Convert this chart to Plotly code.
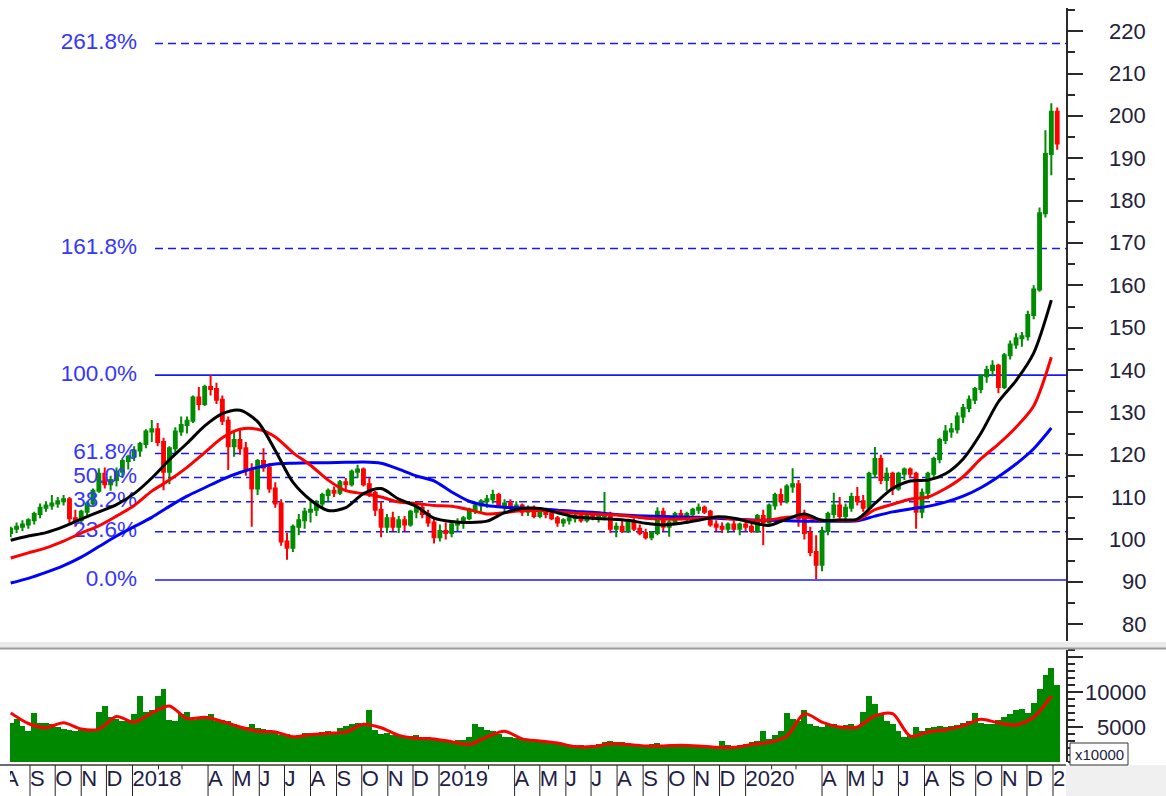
import pandas as pd
import plotly.graph_objects as go

W, H = 1166, 796
FONT = "Liberation Sans, Arial, sans-serif"

# ---------------- data (weekly bars) ----------------
first_week = "2017-08-09"          # Wednesday of first weekly bar
open_ = [101.5, 102.5, 103, 103.5, 104.5, 106, 107.5, 108, 108.5, 109,
         109.5, 105, 104.5, 106.5, 108.5, 111.5, 115.5, 113, 114, 116,
         118.5, 119.5, 121, 122.5, 125.5, 126, 123, 116, 121.5, 125.5,
         127, 128, 133.5, 132, 136, 135.5, 133, 128, 122, 123.5,
         121.5, 116.5, 112, 118.5, 117, 112, 108.5, 99.5, 98, 103,
         104.5, 106.5, 107, 108.5, 110.5, 111.5, 111, 113.5, 113, 116,
         116.5, 113, 111, 107, 103, 105, 103, 104.5, 103.5, 106.5,
         107.5, 106, 104, 100.5, 102, 101.5, 103.5, 104, 105, 107,
         108, 109, 109.5, 110.5, 108, 108.5, 107.5, 108, 106.5, 107.5,
         105.5, 107, 106, 105, 104, 104.5, 105, 105.5, 104.5, 105.5,
         105, 105.5, 106, 102.5, 103, 102, 104, 102.5, 101.5, 100.5,
         101.5, 106.5, 103, 104, 106, 105, 106, 107, 107.5, 106.5,
         103.5, 103, 102.5, 103.5, 102.5, 103.5, 103, 102, 105.5, 104,
         108, 110.5, 109, 112.5, 113, 105, 101.5, 97, 94, 102,
         106, 108, 105.5, 107.5, 110, 109, 107.5, 115.5, 119, 114,
         115.5, 112, 115.5, 116.5, 115.5, 106.5, 111, 115.5, 119, 123.5,
         125.5, 126, 129, 131, 133, 135.5, 138.5, 140, 141, 136,
         143.5, 146, 147.5, 148, 153, 159, 177, 191, 201]
high = [103, 104, 104.5, 105, 106.5, 108.5, 109, 110.5, 110, 110.5,
        110, 107, 107, 109, 112, 116.8, 117, 115, 117, 119,
        120, 122, 123, 126, 128.2, 127.5, 124, 122, 126.5, 129,
        129, 134, 136, 136.5, 138.8, 137, 134, 129, 125.5, 126,
        123, 118, 119, 121.5, 118, 113.5, 109.5, 101.5, 103.5, 106,
        107.5, 109, 109.3, 111, 112, 112.5, 114, 114.5, 116.5, 117.6,
        117, 114.5, 111.5, 109, 106, 106.5, 105.5, 105.5, 107, 108.5,
        108.5, 107, 105, 103.5, 104, 104, 105, 105.5, 107.5, 108.5,
        109.5, 110.5, 111.7, 111, 109.5, 109.5, 109, 108.5, 108, 108,
        107.5, 107.5, 107, 105.5, 105, 105.5, 106, 106, 106, 106.5,
        106, 111.2, 106.5, 104, 104.5, 104.5, 105, 103.5, 102.5, 102,
        107.6, 107.5, 104.5, 106.5, 107, 106.5, 107.5, 108.5, 108, 107,
        104.5, 104, 104, 104.5, 104, 104.5, 104, 106, 107, 108.5,
        111, 112, 113, 116.8, 114, 107, 103, 101, 103, 106.5,
        111, 110, 108.5, 111, 112.4, 110.5, 116, 121.8, 120, 117,
        116, 116, 117, 117, 116, 112, 116, 119.5, 124, 127,
        127.5, 130, 132, 134, 136, 139, 141, 142.3, 141.5, 144,
        147, 148.7, 149, 154, 160, 178.4, 196.6, 203, 202]
low = [100.5, 101.5, 102, 102.5, 103.5, 105, 106.5, 107, 107.5, 108,
       103.5, 103, 103.5, 105.5, 108, 111, 112, 111.5, 112.5, 114.5,
       116.5, 118.5, 119.5, 121.5, 123, 122, 111.6, 113, 120, 124.5,
       125, 127.5, 130.5, 131.5, 134, 132, 127, 116.4, 119.5, 120,
       115, 103, 110.5, 116, 111, 107.5, 98.5, 95.2, 97, 101,
       102.5, 104, 105.5, 107.5, 109, 110, 110.5, 111.5, 112.5, 114.5,
       112.5, 110, 105.5, 100.5, 101.5, 102, 101.5, 102, 103, 105,
       105, 103, 99, 99.5, 100, 100.5, 102, 102.5, 104.5, 106,
       106.5, 107.5, 108.5, 107.5, 106.5, 107, 106.5, 105.5, 105.5, 105,
       105, 105, 104.5, 103, 103, 103.5, 104, 104, 104, 104.5,
       104, 104.5, 101.5, 100.5, 101.5, 101.5, 102, 101, 100, 99.8,
       101, 102, 100.6, 103.5, 104.5, 104, 105, 106, 106, 103,
       102, 101.5, 101.5, 102, 101, 102, 101.5, 101.5, 98.6, 103.5,
       107, 108, 108.5, 111, 103, 100, 96, 90.6, 92.5, 101,
       105, 104.5, 104, 106.5, 108, 106.5, 107, 114.5, 113, 111.5,
       110.5, 111.5, 114, 114.5, 102.5, 105, 109.5, 114.5, 118, 122.5,
       124, 125, 127.5, 130, 132, 134.5, 137, 138.5, 134.5, 135.5,
       142.5, 145, 145.5, 147, 152, 158.5, 176, 186, 192]
close = [102.5, 103, 103.5, 104.5, 106, 107.5, 108, 108.5, 109, 109.5,
         105, 104.5, 106.5, 108.5, 111.5, 115.5, 113, 114, 116, 118.5,
         119.5, 121, 122.5, 125.5, 126, 123, 116, 121.5, 125.5, 127,
         128, 133.5, 132, 136, 135.5, 133, 128, 122, 123.5, 121.5,
         116.5, 112, 118.5, 117, 112, 108.5, 99.5, 98, 103, 104.5,
         106.5, 107, 108.5, 110.5, 111.5, 111, 113.5, 113, 116, 116.5,
         113, 111, 107, 103, 105, 103, 104.5, 103.5, 106.5, 107.5,
         106, 104, 100.5, 102, 101.5, 103.5, 104, 105, 107, 108,
         109, 109.5, 110.5, 108, 108.5, 107.5, 108, 106.5, 107.5, 105.5,
         107, 106, 105, 104, 104.5, 105, 105.5, 104.5, 105.5, 105,
         105.5, 106, 102.5, 103, 102, 104, 102.5, 101.5, 100.5, 101.5,
         106.5, 103, 104, 106, 105, 106, 107, 107.5, 106.5, 103.5,
         103, 102.5, 103.5, 102.5, 103.5, 103, 102, 105.5, 104, 108,
         110.5, 109, 112.5, 113, 105, 101.5, 97, 94, 102, 106,
         108, 105.5, 107.5, 110, 109, 107.5, 115.5, 119, 114, 115.5,
         112, 115.5, 116.5, 115.5, 106.5, 111, 115.5, 119, 123.5, 125.5,
         126, 129, 131, 133, 135.5, 138.5, 140, 141, 136, 143.5,
         146, 147.5, 148, 153, 159, 177, 191, 201, 193.5]
volume = [5600, 6200, 5200, 4400, 7000, 5600, 5600, 5400, 5000, 4700,
          4600, 4500, 4600, 4500, 4600, 7200, 8000, 6500, 6200, 5800,
          6000, 6800, 9500, 7200, 7500, 9500, 10500, 6000, 5800, 6800,
          7200, 6000, 6500, 6300, 6800, 5900, 6000, 5800, 5400, 5200,
          5000, 5400, 4800, 4700, 4600, 4200, 3900, 4000, 3600, 3800,
          4100, 4200, 4000, 4300, 4500, 4200, 4800, 5200, 5400, 5600,
          5300, 7500, 4600, 4000, 4100, 3800, 3700, 3600, 3700, 3800,
          3500, 3600, 3500, 3300, 3100, 3000, 3100, 3200, 3600, 5500,
          5000, 4600, 4400, 4000, 3600, 3600, 3500, 3400, 3300, 3000,
          2900, 3000, 2800, 2600, 2400, 2500, 2300, 2400, 2300, 2500,
          2600, 2900, 3000, 2800, 2900, 2700, 2600, 2500, 2400, 2600,
          2700, 2500, 2400, 2500, 2300, 2400, 2300, 2400, 2500, 2300,
          2200, 3000, 2400, 2300, 2500, 2600, 2800, 3000, 4500, 3300,
          3800, 4500, 7000, 6200, 5800, 7500, 5500, 5200, 5000, 5500,
          5400, 5200, 5300, 5500, 5200, 7200, 9500, 8300, 6800, 5800,
          5500, 4500, 3600, 3700, 5000, 4400, 4800, 5000, 5100, 5000,
          5200, 5300, 5600, 5800, 7000, 5600, 5500, 5400, 6000, 6500,
          6800, 7500, 7600, 7000, 8500, 10500, 12500, 13500, 11000]

# moving averages, sampled every 3rd weekly bar
ma_every = 3
ma_black = [99.8, 100.8, 101.6, 103, 104.8, 106.5, 108.2, 110.8, 114.5, 118.8,
            122.7, 126.8, 129.7, 130.5, 127.8, 121, 113.5, 109.3, 106.8, 107.5,
            110.8, 112, 109.5, 107.8, 105, 104.2, 104, 104.3, 106.3, 107.3,
            107.3, 106.3, 105.3, 105, 104.8, 104.5, 103.8, 103.4, 103.8, 104.5,
            105.3, 105, 104, 103.3, 104.8, 106, 104.5, 104.6, 104.8, 108.5,
            112, 113.8, 114, 115.5, 119, 125, 132.5, 137.5, 144, 156.5]
ma_red = [95.6, 96.8, 98, 99.6, 101.5, 103.2, 105.5, 108, 111.4, 114,
          117, 120.5, 124, 126, 126, 124.2, 120.5, 117.5, 114, 111.5,
          110.8, 110, 108.8, 108.5, 108, 107.8, 107, 106, 106.3, 106.8,
          106.8, 106.5, 106.2, 106, 105.8, 105.5, 105, 104.8, 104.8, 105,
          105.2, 104.8, 104.5, 104.6, 105.2, 105.3, 104.5, 104.5, 104.6, 107,
          108.3, 109.5, 110, 112, 114.8, 119, 122.5, 126.5, 131.5, 143]
ma_blue = [89.7, 90.8, 92.2, 93.8, 95.8, 98.3, 100.8, 103, 105.2, 107.8,
           110.2, 112.2, 114.2, 115.8, 117, 117.8, 118, 118.1, 118.1, 118.2,
           118.3, 118, 116.6, 115, 113.8, 111.2, 109, 108, 107.6, 107.4,
           107.2, 106.9, 106.6, 106.4, 106, 105.7, 105.5, 105.4, 105.3, 105.2,
           105, 104.8, 104.6, 104.5, 104.4, 104.3, 104.3, 104.3, 104.4, 105.5,
           106.5, 107.2, 107.8, 108.8, 110.2, 112.2, 114.8, 117.8, 121.4, 126.3]
vol_ma = [7000, 5500, 4900, 5600, 4700, 4700, 6500, 5700, 7000, 8000,
          6200, 6400, 5800, 5000, 4400, 4300, 3600, 3900, 4100, 4300,
          5400, 4900, 3800, 3400, 3300, 2900, 2500, 3600, 4400, 3300,
          3000, 2700, 2200, 2200, 2600, 2500, 2300, 2300, 2400, 2300,
          2100, 2100, 2500, 2800, 3700, 6900, 5700, 5000, 5000, 6600,
          6900, 3700, 4300, 4600, 5200, 6100, 5600, 5300, 6400, 9400]

# Fibonacci retracement
fib_low, fib_high = 90.4, 138.8
fib_ratios = [0.0, 0.236, 0.382, 0.5, 0.618, 1.0, 1.618, 2.618]
fib_labels = ["0.0%", "23.6%", "38.2%", "50.0%", "61.8%", "100.0%", "161.8%", "261.8%"]

# axis labels
month_starts = ["2017-08-01", "2017-09-01", "2017-10-01", "2017-11-01", "2017-12-01",
                "2018-01-01", "2018-04-01", "2018-05-01", "2018-06-01", "2018-07-01",
                "2018-08-01", "2018-09-01", "2018-10-01", "2018-11-01", "2018-12-01",
                "2019-01-01", "2019-04-01", "2019-05-01", "2019-06-01", "2019-07-01",
                "2019-08-01", "2019-09-01", "2019-10-01", "2019-11-01", "2019-12-01",
                "2020-01-01", "2020-04-01", "2020-05-01", "2020-06-01", "2020-07-01",
                "2020-08-01", "2020-09-01", "2020-10-01", "2020-11-01", "2020-12-01",
                "2021-01-01"]
month_labels = ["A", "S", "O", "N", "D", "2018", "A", "M", "J", "J", "A", "S", "O", "N", "D",
                "2019", "A", "M", "J", "J", "A", "S", "O", "N", "D",
                "2020", "A", "M", "J", "J", "A", "S", "O", "N", "D", "2021"]
inner_marks = ["2018-02-01", "2018-03-01", "2019-02-01", "2019-03-01", "2020-02-01", "2020-03-01"]
price_ticks = list(range(80, 230, 10))
vol_ticks = [5000, 10000]

# ---------------- geometry helpers ----------------
PX_PER_DAY = 1023 / 1218
REF_DATE = pd.Timestamp("2017-09-01")
REF_PX = 30


def px_to_date(px):
    return REF_DATE + pd.Timedelta(days=(px - REF_PX) / PX_PER_DAY)


def xf(px):
    return px / W


def yf(py):
    return 1 - py / H


weeks = pd.date_range(first_week, periods=len(close), freq="7D")
ma_dates = weeks[::ma_every]

GREEN = "#008c00"
RED = "#ff0000"
FIB_BLUE = "#1818ff"

fig = go.Figure()

levels = [fib_low + r * (fib_high - fib_low) for r in fib_ratios]

# fib labels (drawn first, so lines go over them)
fig.add_trace(go.Scatter(
    x=[px_to_date(137)] * len(levels), y=levels, text=fib_labels, mode="text",
    textposition="middle left", textfont=dict(family=FONT, size=22.5, color="#3535ff"),
    cliponaxis=False, hoverinfo="skip", showlegend=False, xaxis="x", yaxis="y"))

fig.add_trace(go.Candlestick(
    x=weeks, open=open_, high=high, low=low, close=close,
    increasing=dict(line=dict(color=GREEN, width=2), fillcolor=GREEN),
    decreasing=dict(line=dict(color=RED, width=2), fillcolor=RED),
    whiskerwidth=0, showlegend=False, hoverinfo="skip", xaxis="x", yaxis="y"))

for vals, col in [(ma_blue, "#0000ff"), (ma_red, "#ff0000"), (ma_black, "#000000")]:
    fig.add_trace(go.Scatter(
        x=ma_dates, y=vals, mode="lines",
        line=dict(color=col, width=3, shape="spline", smoothing=0.8),
        showlegend=False, hoverinfo="skip", xaxis="x", yaxis="y"))

fig.add_trace(go.Bar(
    x=weeks, y=volume, width=7 * 86400000, marker=dict(color="#008800", line=dict(width=0)),
    showlegend=False, hoverinfo="skip", xaxis="x", yaxis="y2"))
fig.add_trace(go.Scatter(
    x=ma_dates, y=vol_ma, mode="lines",
    line=dict(color="#ff0000", width=3, shape="spline", smoothing=0.8),
    showlegend=False, hoverinfo="skip", xaxis="x", yaxis="y2"))

# month labels row (clipped by plot area)
fig.add_trace(go.Scatter(
    x=[pd.Timestamp(d) for d in month_starts], y=[0.5] * len(month_starts), text=month_labels,
    mode="text", textposition="middle right",
    textfont=dict(family=FONT, size=22, color="#1e1e46"),
    cliponaxis=True, hoverinfo="skip", showlegend=False, xaxis="x", yaxis="y3"))

shapes = []
# fib lines
for r, lv in zip(fib_ratios, levels):
    solid = r in (0.0, 1.0)
    shapes.append(dict(type="line", xref="paper", yref="y", x0=xf(155), x1=xf(1066),
                       y0=lv, y1=lv, layer="below",
                       line=dict(color=FIB_BLUE, width=1.6 if solid else 1.5,
                                 dash="solid" if solid else "8px,5px")))
# pane separator
shapes.append(dict(type="rect", xref="paper", yref="paper", x0=0, x1=1, y0=yf(648), y1=yf(642),
                   fillcolor="#eaeaea", line=dict(width=0)))
shapes.append(dict(type="line", xref="paper", yref="paper", x0=0, x1=1, y0=yf(648.5), y1=yf(648.5),
                   line=dict(color="#9a9a9a", width=2)))
# label row
shapes.append(dict(type="rect", xref="paper", yref="paper", x0=xf(1066), x1=1, y0=0, y1=yf(765),
                   fillcolor="#f0f0f0", line=dict(width=0)))
shapes.append(dict(type="line", xref="paper", yref="paper", x0=0, x1=xf(1066), y0=yf(765), y1=yf(765),
                   line=dict(color="#3a3a3a", width=1.5)))
for d in month_starts[1:]:
    shapes.append(dict(type="line", xref="x", yref="y3", x0=d, x1=d, y0=0, y1=1,
                       line=dict(color="#222222", width=1)))
for d in inner_marks:
    shapes.append(dict(type="line", xref="x", yref="y3", x0=d, x1=d, y0=0.86, y1=1,
                       line=dict(color="#222222", width=1)))
# x10000 box
shapes.append(dict(type="rect", xref="paper", yref="paper", x0=xf(1070), x1=xf(1128),
                   y0=yf(765), y1=yf(743), fillcolor="white", line=dict(color="#333333", width=1)))

annotations = []
for v in price_ticks:
    annotations.append(dict(x=xf(1148), y=v, xref="paper", yref="y", text=str(v), showarrow=False,
                            xanchor="right", yanchor="middle",
                            font=dict(family=FONT, size=22, color="#22223a")))
for v in vol_ticks:
    annotations.append(dict(x=xf(1148), y=v, xref="paper", yref="y2", text=str(v), showarrow=False,
                            xanchor="right", yanchor="middle",
                            font=dict(family=FONT, size=22, color="#22223a")))
annotations.append(dict(x=xf(1099), y=yf(754), xref="paper", yref="paper", text="x10000",
                        showarrow=False, xanchor="center", yanchor="middle",
                        font=dict(family=FONT, size=15, color="#22223a")))

axis_col = "#2a2a2a"
fig.update_layout(
    width=W, height=H, autosize=False,
    margin=dict(l=0, r=0, t=0, b=0, pad=0),
    paper_bgcolor="white", plot_bgcolor="white",
    bargap=0, showlegend=False,
    xaxis=dict(domain=[xf(10), xf(1066)], type="date",
               range=[px_to_date(10), px_to_date(1066)],
               showticklabels=False, showgrid=False, zeroline=False, showline=False, ticks="",
               rangeslider=dict(visible=False), fixedrange=True),
    yaxis=dict(domain=[yf(641), yf(8)], range=[76, 225.5], side="right", anchor="x",
               showline=True, linecolor=axis_col, linewidth=2,
               ticks="outside", ticklen=15, tickwidth=2, tickcolor=axis_col,
               tick0=0, dtick=10, showticklabels=False, showgrid=False, zeroline=False,
               minor=dict(ticks="outside", ticklen=7, tickwidth=2, tickcolor=axis_col, dtick=5,
                          showgrid=False)),
    yaxis2=dict(domain=[yf(762), yf(650)], range=[0, 16000], side="right", anchor="x",
                showline=True, linecolor=axis_col, linewidth=2,
                ticks="outside", ticklen=15, tickwidth=2, tickcolor=axis_col,
                tick0=0, dtick=5000, showticklabels=False, showgrid=False, zeroline=False,
                minor=dict(ticks="outside", ticklen=7, tickwidth=1.5, tickcolor=axis_col, dtick=1000,
                           showgrid=False)),
    yaxis3=dict(domain=[0, yf(765)], range=[0, 1], anchor="x", visible=False, fixedrange=True),
    shapes=shapes, annotations=annotations,
)

fig.write_html("out.html")
